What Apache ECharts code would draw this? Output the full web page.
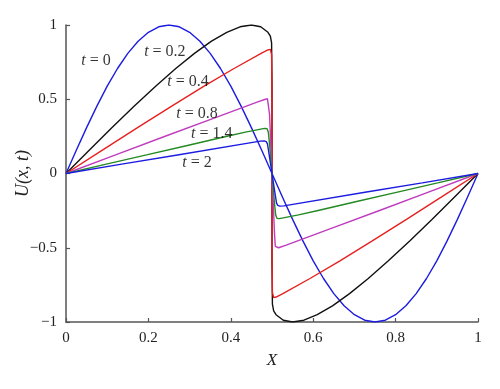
<!DOCTYPE html>
<html>
<head>
<meta charset="utf-8">
<script src="https://cdn.jsdelivr.net/npm/echarts@6/dist/echarts.min.js"></script>
<style>html,body{margin:0;padding:0;background:#fff;}#c{width:500px;height:389px;}</style>
</head>
<body>
<div id="c"></div>
<script>
// ---- data ----
const xTicks = [0, 0.2, 0.4, 0.6, 0.8, 1];
const yTicks = [-1, -0.5, 0, 0.5, 1];

const u_t0 = [[0,0],[0.025,0.156],[0.05,0.309],[0.075,0.454],[0.1,0.588],[0.125,0.707],[0.15,0.809],[0.175,0.891],[0.2,0.951],[0.225,0.988],[0.25,1],[0.275,0.988],[0.3,0.951],[0.325,0.891],[0.35,0.809],[0.375,0.707],[0.4,0.588],[0.425,0.454],[0.45,0.309],[0.475,0.156],[0.5,0],[0.525,-0.156],[0.55,-0.309],[0.575,-0.454],[0.6,-0.588],[0.625,-0.707],[0.65,-0.809],[0.675,-0.891],[0.7,-0.951],[0.725,-0.988],[0.75,-1],[0.775,-0.988],[0.8,-0.951],[0.825,-0.891],[0.85,-0.809],[0.875,-0.707],[0.9,-0.588],[0.925,-0.454],[0.95,-0.309],[0.975,-0.156],[1,0]];

const u_t02 = [[0,0],[0.0563,0.156],[0.1118,0.309],[0.1658,0.454],[0.2176,0.588],[0.2664,0.707],[0.3118,0.809],[0.3532,0.891],[0.3902,0.951],[0.4225,0.988],[0.45,1],[0.4725,0.988],[0.4902,0.951],[0.496,0.925],[0.499,0.88],[0.5,0.6],[0.5,0],[0.5,-0.6],[0.501,-0.88],[0.504,-0.925],[0.5098,-0.951],[0.5275,-0.988],[0.55,-1],[0.5775,-0.988],[0.6098,-0.951],[0.6468,-0.891],[0.6882,-0.809],[0.7336,-0.707],[0.7824,-0.588],[0.8342,-0.454],[0.8882,-0.309],[0.9437,-0.156],[1,0]];

const u_t04 = [[0,0],[0.0874,0.156],[0.1736,0.309],[0.2566,0.454],[0.3351,0.588],[0.4078,0.707],[0.4736,0.809],[0.490,0.832],[0.496,0.836],[0.499,0.8],[0.5,0.5],[0.5,0],[0.5,-0.5],[0.501,-0.8],[0.504,-0.836],[0.510,-0.832],[0.5264,-0.809],[0.5922,-0.707],[0.6649,-0.588],[0.7434,-0.454],[0.8264,-0.309],[0.9126,-0.156],[1,0]];

const u_t08 = [[0,0],[0.1203,0.125],[0.239,0.249],[0.3545,0.368],[0.4655,0.482],[0.484,0.5],[0.489,0.503],[0.492,0.49],[0.494,0.4],[0.497,0.2],[0.5,0],[0.503,-0.2],[0.506,-0.4],[0.508,-0.49],[0.511,-0.503],[0.516,-0.5],[0.5345,-0.482],[0.6455,-0.368],[0.761,-0.249],[0.8797,-0.125],[1,0]];

const u_t14 = [[0,0],[0.0979,0.063],[0.1954,0.125],[0.292,0.187],[0.3882,0.249],[0.4356,0.279],[0.482,0.304],[0.488,0.302],[0.491,0.28],[0.494,0.2],[0.497,0.1],[0.5,0],[0.503,-0.1],[0.506,-0.2],[0.509,-0.28],[0.512,-0.302],[0.518,-0.304],[0.5644,-0.279],[0.6118,-0.249],[0.708,-0.187],[0.8046,-0.125],[0.9021,-0.063],[1,0]];

const u_t2 = [[0,0],[0.1353,0.063],[0.2706,0.125],[0.4713,0.218],[0.481,0.22],[0.486,0.215],[0.489,0.2],[0.494,0.11],[0.5,0],[0.506,-0.11],[0.511,-0.2],[0.514,-0.215],[0.519,-0.22],[0.5287,-0.218],[0.7294,-0.125],[0.8647,-0.063],[1,0]];

const curveNames = ['t = 0','t = 0.2','t = 0.4','t = 0.8','t = 1.4','t = 2'];
const curveData = [u_t0, u_t02, u_t04, u_t08, u_t14, u_t2];
const curveColors = ['#1c1ce0', '#111111', '#e82020', '#bf3cbf', '#238a23', '#1c1ce0'];

// annotation labels: time value and anchor (data coords)
const labelTimes = ['0', '0.2', '0.4', '0.8', '1.4', '2'];
const labelX = [0.073, 0.24, 0.296, 0.318, 0.354, 0.318];
const labelY = [0.757, 0.818, 0.615, 0.405, 0.27, 0.074];

// ---- chart ----
const serif = '"Liberation Serif", "DejaVu Serif", serif';
const chart = echarts.init(document.getElementById('c'), null, {renderer: 'canvas'});
const fmt = v => {
  const s = String(Math.round(v * 10) / 10);
  return s.replace('-', '\u2212');
};
const series = curveData.map((d, i) => ({
  name: curveNames[i],
  type: 'line',
  data: d,
  showSymbol: false,
  symbol: 'none',
  smooth: false,
  lineStyle: {color: curveColors[i], width: 1.4},
  silent: true,
  z: 2
}));
series.push({
  type: 'scatter',
  symbolSize: 0,
  silent: true,
  data: labelX.map((x, i) => [x, labelY[i], labelTimes[i]]),
  label: {
    show: true,
    position: 'inside',
    formatter: p => '{i|t} = ' + p.data[2],
    color: '#000',
    fontFamily: serif,
    fontSize: 16,
    rich: { i: { fontStyle: 'italic', fontFamily: serif, fontSize: 16, color: '#000' } }
  },
  z: 5
});

chart.setOption({
  animation: false,
  backgroundColor: '#fff',
  grid: {left: 66, right: 22, top: 25, bottom: 67, containLabel: false, outerBoundsMode: 'none'},
  xAxis: {
    type: 'value', min: 0, max: 1, interval: 0.2,
    name: 'X', nameLocation: 'middle', nameGap: 30, nameMoveOverlap: false,
    nameTextStyle: {fontFamily: serif, fontStyle: 'italic', fontSize: 17, color: '#222'},
    axisLine: {show: true, onZero: false, lineStyle: {color: '#555', width: 1.5}},
    axisTick: {show: true, inside: true, length: 4, lineStyle: {color: '#555', width: 1.2}},
    axisLabel: {fontFamily: serif, fontSize: 15, color: '#222', margin: 9, formatter: fmt},
    splitLine: {show: false}
  },
  yAxis: {
    type: 'value', min: -1, max: 1, interval: 0.5,
    name: 'U(x, t)', nameLocation: 'middle', nameGap: 34, nameRotate: 90, nameMoveOverlap: false,
    nameTextStyle: {fontFamily: serif, fontStyle: 'italic', fontSize: 18, color: '#222'},
    axisLine: {show: true, onZero: false, lineStyle: {color: '#555', width: 1.5}},
    axisTick: {show: true, inside: true, length: 4, lineStyle: {color: '#555', width: 1.2}},
    axisLabel: {fontFamily: serif, fontSize: 15, color: '#222', margin: 9, formatter: fmt},
    splitLine: {show: false}
  },
  series: series
});
</script>
</body>
</html>
